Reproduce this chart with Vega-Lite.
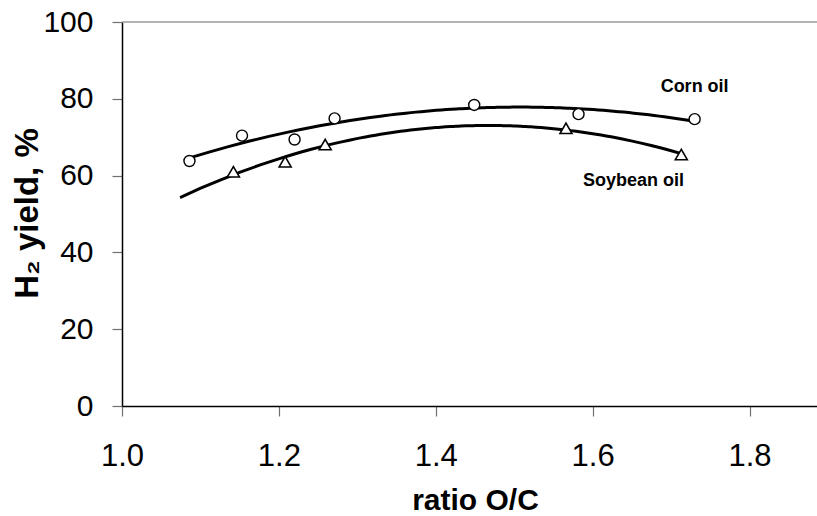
{
  "$schema": "https://vega.github.io/schema/vega-lite/v6.json",
  "width": 695,
  "height": 384,
  "autosize": "none",
  "padding": {"left": 122, "top": 22, "right": 0, "bottom": 110},
  "config": {
    "view": {"stroke": null},
    "font": "Liberation Sans",
    "axis": {"grid": false, "labelFont": "Liberation Sans", "titleFont": "Liberation Sans", "labelColor": "black", "titleColor": "black"}
  },
  "datasets": {
    "yields": [
      {"oil": "Corn oil", "ratio": 1.086, "yield": 63.8},
      {"oil": "Corn oil", "ratio": 1.153, "yield": 70.4},
      {"oil": "Corn oil", "ratio": 1.220, "yield": 69.4},
      {"oil": "Corn oil", "ratio": 1.271, "yield": 74.9},
      {"oil": "Corn oil", "ratio": 1.449, "yield": 78.4},
      {"oil": "Corn oil", "ratio": 1.582, "yield": 76.0},
      {"oil": "Corn oil", "ratio": 1.730, "yield": 74.7},
      {"oil": "Soybean oil", "ratio": 1.142, "yield": 61.0},
      {"oil": "Soybean oil", "ratio": 1.208, "yield": 63.6},
      {"oil": "Soybean oil", "ratio": 1.259, "yield": 68.1},
      {"oil": "Soybean oil", "ratio": 1.566, "yield": 72.3},
      {"oil": "Soybean oil", "ratio": 1.713, "yield": 65.5}
    ],
    "names": [
      {"label": "Corn oil", "ratio": 1.73, "yield": 83.0},
      {"label": "Soybean oil", "ratio": 1.652, "yield": 58.6}
    ]
  },
  "data": {"name": "yields"},
  "layer": [
    {
      "data": {"values": [{}]},
      "mark": {"type": "rule", "color": "#9a9a9a", "strokeWidth": 1.5},
      "encoding": {
        "y": {"datum": 100, "type": "quantitative", "scale": {"domain": [0, 100], "nice": false}}
      }
    },
    {
      "transform": [
        {"filter": "datum.oil === 'Corn oil'"},
        {"regression": "yield", "on": "ratio", "method": "poly", "order": 2, "extent": [1.084, 1.730]}
      ],
      "mark": {"type": "line", "color": "black", "strokeWidth": 3},
      "encoding": {
        "x": {
          "field": "ratio", "type": "quantitative",
          "scale": {"domain": [1.0, 1.886], "nice": false, "zero": false},
          "axis": {
            "values": [1.0, 1.2, 1.4, 1.6, 1.8], "format": ".1f", "labelFlush": false,
            "domainColor": "black", "domainWidth": 1.5, "tickColor": "#707070", "tickWidth": 1.2, "tickSize": 10,
            "labelFontSize": 31, "labelBaseline": "alphabetic", "labelPadding": 49,
            "title": "ratio O/C", "titleFontSize": 30, "titleFontWeight": "bold",
            "titleX": 353, "titleY": 103, "titleBaseline": "alphabetic", "titleAlign": "center"
          }
        },
        "y": {
          "field": "yield", "type": "quantitative",
          "scale": {"domain": [0, 100], "nice": false},
          "axis": {
            "values": [0, 20, 40, 60, 80, 100],
            "domainColor": "black", "domainWidth": 1.5, "tickColor": "#707070", "tickWidth": 1.2, "tickSize": 10,
            "labelFontSize": 30, "labelPadding": 19,
            "title": "H₂ yield, %", "titleFontSize": 33, "titleFontWeight": "bold",
            "titleAngle": -90, "titleX": -95, "titleY": 191, "titleAlign": "center", "titleBaseline": "middle"
          }
        }
      }
    },
    {
      "transform": [
        {"filter": "datum.oil === 'Soybean oil'"},
        {"regression": "yield", "on": "ratio", "method": "poly", "order": 2, "extent": [1.074, 1.713]}
      ],
      "mark": {"type": "line", "color": "black", "strokeWidth": 3},
      "encoding": {
        "x": {"field": "ratio", "type": "quantitative"},
        "y": {"field": "yield", "type": "quantitative"}
      }
    },
    {
      "transform": [{"filter": "datum.oil === 'Corn oil'"}],
      "mark": {"type": "point", "shape": "circle", "size": 121, "filled": false, "fill": "white", "fillOpacity": 1, "stroke": "black", "strokeWidth": 1.4, "opacity": 1},
      "encoding": {
        "x": {"field": "ratio", "type": "quantitative"},
        "y": {"field": "yield", "type": "quantitative"}
      }
    },
    {
      "transform": [{"filter": "datum.oil === 'Soybean oil'"}],
      "mark": {"type": "point", "shape": "triangle-up", "size": 144, "filled": false, "fill": "white", "fillOpacity": 1, "stroke": "black", "strokeWidth": 1.6, "opacity": 1},
      "encoding": {
        "x": {"field": "ratio", "type": "quantitative"},
        "y": {"field": "yield", "type": "quantitative"}
      }
    },
    {
      "data": {"name": "names"},
      "mark": {"type": "text", "font": "Liberation Sans", "fontSize": 18, "fontWeight": "bold", "color": "black", "align": "center", "baseline": "middle"},
      "encoding": {
        "x": {"field": "ratio", "type": "quantitative"},
        "y": {"field": "yield", "type": "quantitative"},
        "text": {"field": "label"}
      }
    }
  ]
}
